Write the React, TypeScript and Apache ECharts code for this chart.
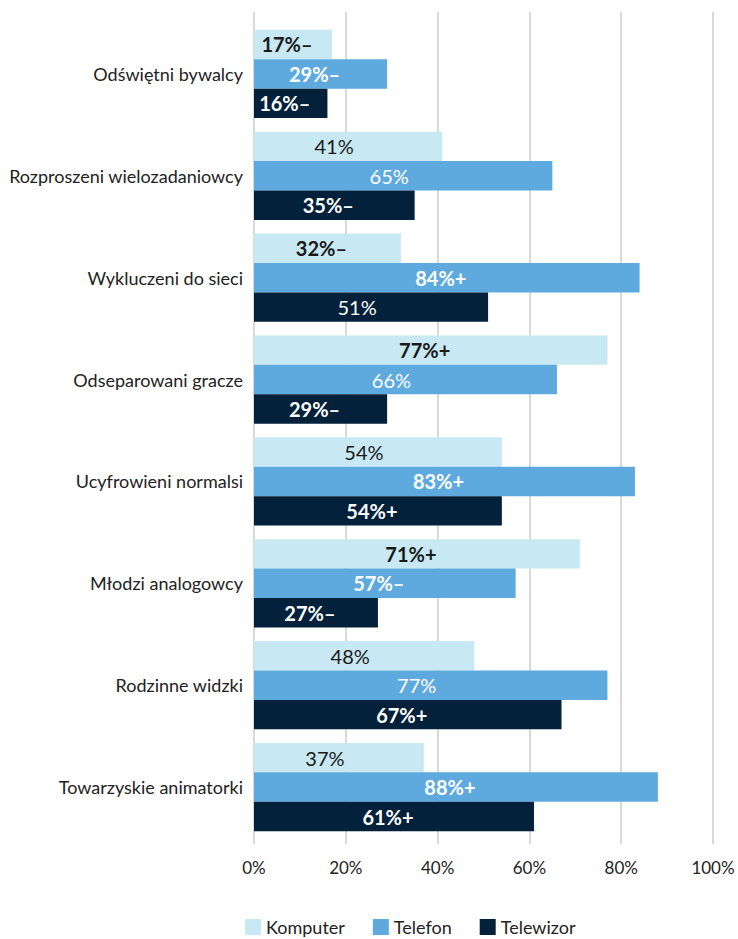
import React, { useEffect, useRef } from "react";
import * as echarts from "echarts";

const categories = [
  "Odświętni bywalcy",
  "Rozproszeni wielozadaniowcy",
  "Wykluczeni do sieci",
  "Odseparowani gracze",
  "Ucyfrowieni normalsi",
  "Młodzi analogowcy",
  "Rodzinne widzki",
  "Towarzyskie animatorki",
];
const seriesNames = ["Komputer", "Telefon", "Telewizor"];
const komputer = [17, 41, 32, 77, 54, 71, 48, 37];
const telefon = [29, 65, 84, 66, 83, 57, 77, 88];
const telewizor = [16, 35, 51, 29, 54, 27, 67, 61];
const komputerMark = ["–", "", "–", "+", "", "+", "", ""];
const telefonMark = ["–", "", "+", "", "+", "–", "", "+"];
const telewizorMark = ["–", "–", "", "–", "+", "–", "+", "+"];
const xTicks = [0, 20, 40, 60, 80, 100];

const colors = ["#c8e9f4", "#5eaade", "#03213a"];
const labelColors = ["#1a1a1a", "#ffffff", "#ffffff"];
const FONT = "Lato";

export default function App() {
  const ref = useRef<HTMLDivElement>(null);
  useEffect(() => {
    if (!ref.current) return;
    const chart = echarts.init(ref.current, null, { renderer: "svg" });
    const values = [komputer, telefon, telewizor];
    const marks = [komputerMark, telefonMark, telewizorMark];
    const series = values.map((vals, si) => ({
      name: seriesNames[si],
      type: "bar",
      xAxisIndex: 1,
      yAxisIndex: 1,
      barGap: "0%",
      barCategoryGap: "13.3%",
      itemStyle: { color: colors[si] },
      data: vals.map((v, i) => {
        const m = marks[si][i];
        return {
          value: v,
          label: {
            fontWeight: m ? "bold" : "normal",
            offset: [m ? -6 : -14, 0],
          },
        };
      }),
      label: {
        show: true,
        position: "inside",
        color: labelColors[si],
        fontFamily: FONT,
        fontSize: 20,
        formatter: (p: any) => `${p.value}%${marks[si][p.dataIndex]}`,
      },
    }));
    chart.setOption({
      animation: false,
      textStyle: { fontFamily: FONT },
      legend: {
        data: seriesNames,
        left: 245,
        top: 918,
        itemWidth: 16,
        itemHeight: 16,
        itemGap: 28,
        icon: "rect",
        padding: 0,
        textStyle: { fontFamily: FONT, fontSize: 18, color: "#222" },
      },
      grid: [
        { left: 254, right: 25, top: 12, height: 826 },
        { left: 254, right: 25, top: 23, height: 815 },
      ],
      xAxis: [
        {
          type: "value",
          gridIndex: 0,
          min: 0,
          max: 100,
          interval: 20,
          axisLine: { show: false },
          axisTick: { show: true, length: 6, lineStyle: { color: "#d9d9d9", width: 2 } },
          splitLine: { show: true, lineStyle: { color: "#d9d9d9", width: 2 } },
          axisLabel: {
            margin: 21,
            fontFamily: FONT,
            fontSize: 17,
            color: "#222",
            formatter: (v: number) => (xTicks.includes(v) ? `${v}%` : ""),
          },
        },
        {
          type: "value",
          gridIndex: 1,
          min: 0,
          max: 100,
          show: false,
        },
      ],
      yAxis: [
        {
          type: "category",
          gridIndex: 0,
          data: categories,
          show: false,
        },
        {
          type: "category",
          gridIndex: 1,
          data: categories,
          inverse: true,
          axisLine: { show: false },
          axisTick: { show: false },
          axisLabel: {
            margin: 11,
            fontFamily: FONT,
            fontSize: 18,
            color: "#222",
          },
        },
      ],
      series,
    });
    return () => chart.dispose();
  }, []);
  return <div ref={ref} style={{ width: 738, height: 939, position: "absolute", left: 0, top: 0 }} />;
}
